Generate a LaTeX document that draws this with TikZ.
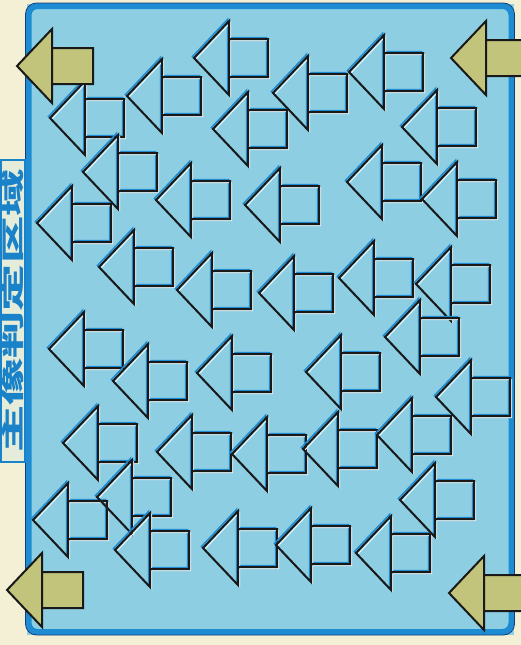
\documentclass[tikz,border=0pt]{standalone}
\usepackage{fontspec}
\newfontfamily\cjk{Noto Sans CJK JP}
\definecolor{paper}{RGB}{244,240,214}
\definecolor{areafill}{RGB}{142,206,226}
\definecolor{frameblue}{RGB}{30,140,210}
\definecolor{framedark}{RGB}{20,60,120}
\definecolor{markolive}{RGB}{193,196,122}
\definecolor{labelfill}{RGB}{230,236,218}
\definecolor{labelblue}{RGB}{25,130,200}

\tikzset{
    hollowarrow/.pic={
        \draw[frameblue, line width=1.5pt, shift={(-1.5,-1.5)}]
            (0,0) -- (35,-37) -- (35,37) -- cycle (35,-19) rectangle (74,19);
        \draw[white!80!areafill, line width=1pt, shift={(1.5,1.5)}]
            (0,0) -- (35,-37) -- (35,37) -- cycle (35,-19) rectangle (74,19);
        \draw[black!90, line width=2pt, line join=miter]
            (0,0) -- (35,-37) -- (35,37) -- cycle (35,-19) rectangle (74,19);
    },
    cornerarrow/.pic={
        \draw[fill=markolive, draw=black!90, line width=2pt]
            (35,-18) rectangle (76,18) (0,0) -- (35,-37) -- (35,37) -- cycle;
    }
}

\begin{document}
\begin{tikzpicture}[x=1pt, y=-1pt]

\fill[paper] (0,0) rectangle (521,645);
\useasboundingbox (0,0) rectangle (521,645);

% Detection area
\fill[areafill] (27,4) rectangle (514,635);
\draw[frameblue, line width=6pt, rounded corners=9pt] (28.5,6) rectangle (511.5,632);
\draw[framedark, line width=0.8pt, rounded corners=11pt] (25.5,3) rectangle (514.5,635);

% Side label
\node[draw=labelblue, line width=2pt, fill=labelfill, minimum width=24pt,
      minimum height=302pt, inner sep=0pt] (label) at (13,311) {};
\node[rotate=90, text=labelblue, inner sep=0pt] (labeltext) at (label.center)
    {\scalebox{2.05}[1]{\cjk\bfseries\fontsize{23}{23}\selectfont 主像判定区域}};

% Hollow arrows (tip positions)
\foreach \x/\y in {194/58, 127/96, 50/118, 213/129, 273/93, 349/72, 402/127,
                   83/172, 156/200, 37/223, 245/205, 347/182, 422/199,
                   99/267, 177/290, 259/293, 339/278, 416/284,
                   49/349, 113/381, 197/373, 306/372, 385/337, 436/397,
                   63/443, 157/452, 232/454, 303/449, 377/435,
                   33/520, 97/497, 115/550, 203/548, 276/545, 356/553, 400/500}
    \pic at (\x,\y) {hollowarrow};

% Corner arrows
\pic at (17,66) {cornerarrow};
\pic at (451,58) {cornerarrow};
\pic at (7,590) {cornerarrow};
\pic at (449,593) {cornerarrow};

\end{tikzpicture}
\end{document}
